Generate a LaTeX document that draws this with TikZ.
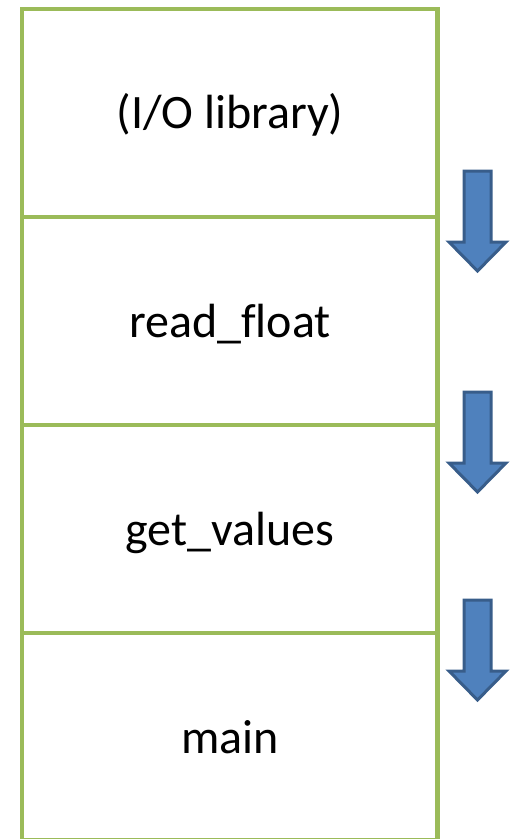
\documentclass[tikz,border=0pt]{standalone}
\usepackage{fontspec}
\setmainfont[Ligatures=NoCommon]{Carlito}
\definecolor{boxgreen}{HTML}{9BBB59}
\definecolor{arrowfill}{HTML}{4F81BD}
\definecolor{arrowline}{HTML}{385D8A}
\begin{document}
\begin{tikzpicture}[x=1pt,y=-1pt,
  frame/.style={draw=boxgreen,line width=4.5pt},
  label/.style={font=\fontsize{48}{52}\selectfont,anchor=base,inner sep=0pt},
  downarrow/.style={draw=arrowline,fill=arrowfill,line width=3pt,line join=miter}]
\useasboundingbox (0,0) rectangle (510,839);
\draw[frame] (22,9) rectangle (437.5,840);
\draw[frame] (22,217) -- (437.5,217);
\draw[frame] (22,425) -- (437.5,425);
\draw[frame] (22,633) -- (437.5,633);
\node[label] (io) at (230,128) {(I/O library)};
\node[label] (rf) at (230,337) {read\_f{}loat};
\node[label] (gv) at (230,545) {get\_values};
\node[label] (mn) at (230,753) {main};
\foreach \y in {171,392,600}{
  \draw[downarrow] (464,\y) -- (491,\y) -- (491,\y+71) -- (506,\y+71) -- (477.5,\y+100) -- (449,\y+71) -- (464,\y+71) -- cycle;
}
\end{tikzpicture}
\end{document}
